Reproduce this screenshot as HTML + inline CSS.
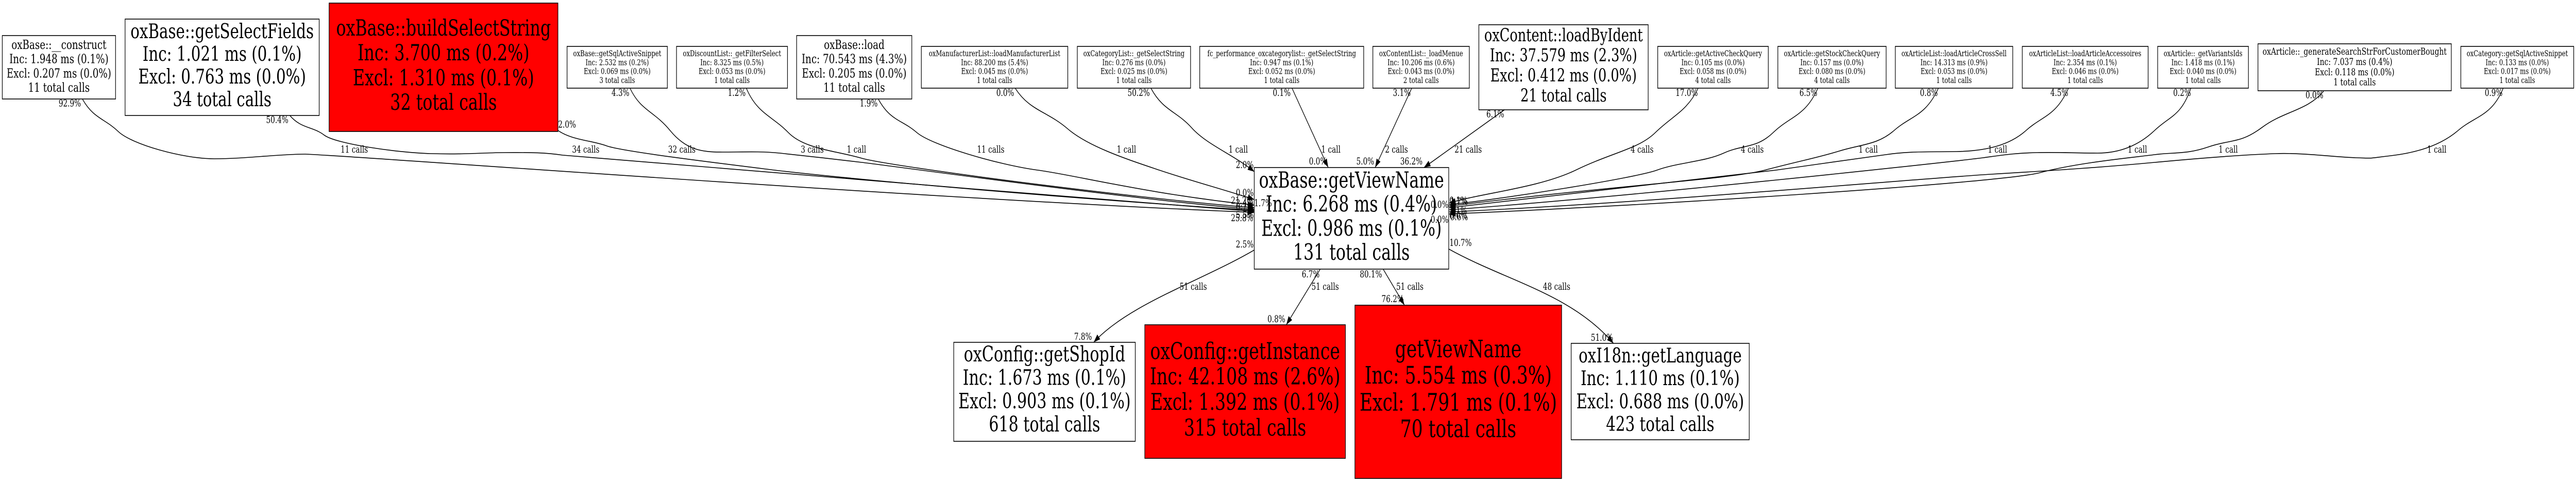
<!DOCTYPE html>
<html><head><meta charset="utf-8"><title>Call graph</title>
<style>
html,body{margin:0;padding:0;background:#fff;width:100%;height:100%;overflow:hidden}
svg{display:block;width:100vw;height:100vh}
text{font-family:"DejaVu Serif",serif;fill:#000}
.n text{text-anchor:middle}
.l{font-size:18.4px;text-anchor:middle}
.e path{fill:none;stroke:#000;stroke-width:1.6;marker-end:url(#a)}
.b{stroke:#000;stroke-width:1.6;fill:#fff}
.r{fill:#f00}
</style></head><body>
<svg xmlns="http://www.w3.org/2000/svg" viewBox="0 0 6755 933" preserveAspectRatio="none">
<defs><marker id="a" markerUnits="userSpaceOnUse" markerWidth="18" markerHeight="12" refX="17" refY="6" orient="auto"><path d="M0 0L17 6L0 12Z" fill="#000"/></marker></defs>
<rect width="6755" height="933" fill="#fff"/>

<g class="e">
<path d="M216 192C245 230 275 230 310 255S480 308 562 308S730 299 800 299S2400 385 3289 412"/>
<path d="M760 224C790 250 820 245 850 262S1040 296 1130 298S1270 296 1325 296S1420 295 1476 301S2700 375 3289 410"/>
<path d="M1463 253C1500 272 1550 272 1591 283S1900 318 2031 330S2700 380 3289 408"/>
<path d="M1652 171C1680 215 1715 215 1757 253S1840 295 1894 295S1990 293 2045 297S2200 310 2260 315S3000 390 3289 406"/>
<path d="M1957 171C1985 220 2025 225 2067 257S2190 292 2260 307S2940 382 3289 403"/>
<path d="M2303 192C2335 235 2365 232 2404 257S2620 320 2721 330S3000 375 3289 398"/>
<path d="M2662 171C2700 215 2745 215 2800 250S2960 310 3040 330S3220 370 3289 387"/>
<path d="M3018 171C3050 215 3085 215 3125 248S3235 300 3289 333"/>
<path d="M3388 171L3483 325"/>
<path d="M3702 171L3606 325"/>
<path d="M3945 213L3734 325"/>
<path d="M4453 171C4425 215 4385 225 4341 257S4230 295 4132 330S3880 375 3800 394"/>
<path d="M4767 171C4735 225 4695 225 4650 257S4570 280 4520 297S4400 315 4345 330S3950 385 3800 397"/>
<path d="M5083 171C5050 225 5010 225 4967 253S4880 280 4823 293S4720 312 4628 330S4200 362 3800 400"/>
<path d="M5424 171C5392 225 5355 225 5313 253S5210 293 5130 294S5010 293 4945 300S4750 320 4657 330S4200 370 3800 403"/>
<path d="M5745 171C5720 225 5690 225 5650 253S5560 297 5500 297S5400 295 5342 296S5260 300 5200 306S4300 380 3800 407"/>
<path d="M6093 177C6050 215 5990 215 5932 247S5850 270 5791 285S5700 295 5650 300S5450 315 5349 335S4300 400 3800 415"/>
<path d="M6564 171C6535 225 6490 225 6446 253S6340 296 6270 302S6230 307 6178 306S6040 296 5967 298S5780 306 5650 315S5400 330 5220 338S4300 395 3800 411"/>
<path d="M3289 485C3150 545 2960 590 2868 664"/>
<path d="M3462 522L3373 630"/>
<path d="M3627 522L3683 592"/>
<path d="M3799 483C3950 545 4120 570 4231 666"/>
</g>

<g class="n">
<rect class="b" x="6" y="69" width="297" height="123"/>
<g font-size="24.7"><text x="154.500" y="95">oxBase::__construct</text><text x="154.500" y="122.700">Inc: 1.948 ms (0.1%)</text><text x="154.500" y="150.400">Excl: 0.207 ms (0.0%)</text><text x="154.500" y="178">11 total calls</text></g>

<rect class="b" x="328" y="37" width="509" height="187"/>
<g font-size="39.6"><text x="582.500" y="74">oxBase::getSelectFields</text><text x="582.500" y="118">Inc: 1.021 ms (0.1%)</text><text x="582.500" y="162">Excl: 0.763 ms (0.0%)</text><text x="582.500" y="206">34 total calls</text></g>

<rect class="b r" x="863" y="6" width="600" height="249"/>
<g font-size="42.800"><text x="1163" y="69">oxBase::buildSelectString</text><text x="1163" y="117">Inc: 3.700 ms (0.2%)</text><text x="1163" y="165.500">Excl: 1.310 ms (0.1%)</text><text x="1163" y="213">32 total calls</text></g>

<rect class="b" x="1487" y="90" width="263" height="81"/>
<g font-size="15.8"><text x="1618.500" y="109">oxBase::getSqlActiveSnippet</text><text x="1618.500" y="126.300">Inc: 2.532 ms (0.2%)</text><text x="1618.500" y="143.600">Excl: 0.069 ms (0.0%)</text><text x="1618.500" y="161">3 total calls</text></g>

<rect class="b" x="1774" y="90" width="291" height="81"/>
<g font-size="15.8"><text x="1919.500" y="109">oxDiscountList::_getFilterSelect</text><text x="1919.500" y="126.300">Inc: 8.325 ms (0.5%)</text><text x="1919.500" y="143.600">Excl: 0.053 ms (0.0%)</text><text x="1919.500" y="161">1 total calls</text></g>

<rect class="b" x="2089" y="69" width="302" height="123"/>
<g font-size="24.7"><text x="2240" y="95">oxBase::load</text><text x="2240" y="122.700">Inc: 70.543 ms (4.3%)</text><text x="2240" y="150.400">Excl: 0.205 ms (0.0%)</text><text x="2240" y="178">11 total calls</text></g>

<rect class="b" x="2416" y="90" width="384" height="81"/>
<g font-size="15.8"><text x="2608" y="109">oxManufacturerList::loadManufacturerList</text><text x="2608" y="126.300">Inc: 88.200 ms (5.4%)</text><text x="2608" y="143.600">Excl: 0.045 ms (0.0%)</text><text x="2608" y="161">1 total calls</text></g>

<rect class="b" x="2825" y="90" width="297" height="81"/>
<g font-size="15.8"><text x="2973.500" y="109">oxCategoryList::_getSelectString</text><text x="2973.500" y="126.300">Inc: 0.276 ms (0.0%)</text><text x="2973.500" y="143.600">Excl: 0.025 ms (0.0%)</text><text x="2973.500" y="161">1 total calls</text></g>

<rect class="b" x="3146" y="90" width="430" height="81"/>
<g font-size="15.8"><text x="3361" y="109">fc_performance_oxcategorylist::_getSelectString</text><text x="3361" y="126.300">Inc: 0.947 ms (0.1%)</text><text x="3361" y="143.600">Excl: 0.052 ms (0.0%)</text><text x="3361" y="161">1 total calls</text></g>

<rect class="b" x="3600" y="90" width="253" height="81"/>
<g font-size="15.8"><text x="3726.500" y="109">oxContentList::_loadMenue</text><text x="3726.500" y="126.300">Inc: 10.206 ms (0.6%)</text><text x="3726.500" y="143.600">Excl: 0.043 ms (0.0%)</text><text x="3726.500" y="161">2 total calls</text></g>

<rect class="b" x="3878" y="48" width="444" height="165"/>
<g font-size="34.600"><text x="4100" y="80">oxContent::loadByIdent</text><text x="4100" y="119">Inc: 37.579 ms (2.3%)</text><text x="4100" y="158">Excl: 0.412 ms (0.0%)</text><text x="4100" y="197">21 total calls</text></g>

<rect class="b" x="4347" y="90" width="290" height="81"/>
<g font-size="15.8"><text x="4492" y="109">oxArticle::getActiveCheckQuery</text><text x="4492" y="126.300">Inc: 0.105 ms (0.0%)</text><text x="4492" y="143.600">Excl: 0.058 ms (0.0%)</text><text x="4492" y="161">4 total calls</text></g>

<rect class="b" x="4662" y="90" width="284" height="81"/>
<g font-size="15.8"><text x="4804" y="109">oxArticle::getStockCheckQuery</text><text x="4804" y="126.300">Inc: 0.157 ms (0.0%)</text><text x="4804" y="143.600">Excl: 0.080 ms (0.0%)</text><text x="4804" y="161">4 total calls</text></g>

<rect class="b" x="4970" y="90" width="308" height="81"/>
<g font-size="15.8"><text x="5124" y="109">oxArticleList::loadArticleCrossSell</text><text x="5124" y="126.300">Inc: 14.313 ms (0.9%)</text><text x="5124" y="143.600">Excl: 0.053 ms (0.0%)</text><text x="5124" y="161">1 total calls</text></g>

<rect class="b" x="5303" y="90" width="330" height="81"/>
<g font-size="15.8"><text x="5468" y="109">oxArticleList::loadArticleAccessoires</text><text x="5468" y="126.300">Inc: 2.354 ms (0.1%)</text><text x="5468" y="143.600">Excl: 0.046 ms (0.0%)</text><text x="5468" y="161">1 total calls</text></g>

<rect class="b" x="5658" y="90" width="238" height="81"/>
<g font-size="15.8"><text x="5777" y="109">oxArticle::_getVariantsIds</text><text x="5777" y="126.300">Inc: 1.418 ms (0.1%)</text><text x="5777" y="143.600">Excl: 0.040 ms (0.0%)</text><text x="5777" y="161">1 total calls</text></g>

<rect class="b" x="5921" y="85" width="507" height="91"/>
<g font-size="18.800"><text x="6174.500" y="106">oxArticle::_generateSearchStrForCustomerBought</text><text x="6174.500" y="126">Inc: 7.037 ms (0.4%)</text><text x="6174.500" y="145.800">Excl: 0.118 ms (0.0%)</text><text x="6174.500" y="165.500">1 total calls</text></g>

<rect class="b" x="6453" y="90" width="296" height="81"/>
<g font-size="15.8"><text x="6601" y="109">oxCategory::getSqlActiveSnippet</text><text x="6601" y="126.300">Inc: 0.133 ms (0.0%)</text><text x="6601" y="143.600">Excl: 0.017 ms (0.0%)</text><text x="6601" y="161">1 total calls</text></g>

<rect class="b" x="3289" y="325" width="510" height="197"/>
<g font-size="42.600"><text x="3544" y="364">oxBase::getViewName</text><text x="3544" y="410.700">Inc: 6.268 ms (0.4%)</text><text x="3544" y="457.300">Excl: 0.986 ms (0.1%)</text><text x="3544" y="504">131 total calls</text></g>

<rect class="b" x="2501" y="664" width="476" height="192"/>
<g font-size="40.700"><text x="2739" y="701">oxConfig::getShopId</text><text x="2739" y="746.500">Inc: 1.673 ms (0.1%)</text><text x="2739" y="792">Excl: 0.903 ms (0.1%)</text><text x="2739" y="837">618 total calls</text></g>

<rect class="b r" x="3002" y="630" width="526" height="259"/>
<g font-size="44.700"><text x="3265" y="696.700">oxConfig::getInstance</text><text x="3265" y="745.700">Inc: 42.108 ms (2.6%)</text><text x="3265" y="795">Excl: 1.392 ms (0.1%)</text><text x="3265" y="845">315 total calls</text></g>

<rect class="b r" x="3553" y="592" width="542" height="336"/>
<g font-size="46.600"><text x="3824" y="693">getViewName</text><text x="3824" y="744">Inc: 5.554 ms (0.3%)</text><text x="3824" y="796.500">Excl: 1.791 ms (0.1%)</text><text x="3824" y="848">70 total calls</text></g>

<rect class="b" x="4120" y="666" width="467" height="187"/>
<g font-size="39.6"><text x="4353.500" y="703">oxI18n::getLanguage</text><text x="4353.500" y="747">Inc: 1.110 ms (0.1%)</text><text x="4353.500" y="792">Excl: 0.688 ms (0.0%)</text><text x="4353.500" y="836">423 total calls</text></g>
</g>

<g class="l">
<text x="929" y="296">11 calls</text><text x="1536" y="296">34 calls</text><text x="1788" y="296">32 calls</text><text x="2130" y="296">3 calls</text><text x="2246" y="296">1 call</text><text x="2598" y="296">11 calls</text><text x="2954" y="296">1 call</text><text x="3247" y="296">1 call</text><text x="3490" y="296">1 call</text><text x="3662" y="296">2 calls</text><text x="3850" y="296">21 calls</text><text x="4306" y="296">4 calls</text><text x="4595" y="296">4 calls</text><text x="4899" y="296">1 call</text><text x="5238" y="296">1 call</text><text x="5605" y="296">1 call</text><text x="5843" y="296">1 call</text><text x="6390" y="296">1 call</text>
<text x="3129" y="562">51 calls</text><text x="3475" y="562">51 calls</text><text x="3697" y="562">51 calls</text><text x="4082" y="562">48 calls</text>

<text x="183" y="206.500">92.9%</text><text x="727" y="238.500">50.4%</text><text x="1487" y="247.500">2.0%</text><text x="1627" y="186">4.3%</text><text x="1932" y="186">1.2%</text><text x="2278" y="206.500">1.9%</text><text x="2636" y="186">0.0%</text><text x="2986" y="186">50.2%</text><text x="3361" y="186">0.1%</text><text x="3676" y="186">3.1%</text><text x="3921" y="227.500">6.1%</text><text x="4423" y="186">17.0%</text><text x="4742" y="186">6.5%</text><text x="5058" y="186">0.8%</text><text x="5400" y="186">4.5%</text><text x="5722" y="186">0.2%</text><text x="6069" y="190.500">0.0%</text><text x="6539" y="186">0.9%</text>

<text x="3264" y="326">2.0%</text><text x="3456" y="319">0.0%</text><text x="3580" y="319">5.0%</text><text x="3701" y="319">36.2%</text>
<text x="3264" y="380">0.0%</text><text x="3257" y="395">21.2%</text><text x="3264" y="400">2.4%</text><text x="3312" y="400">1.7%</text><text x="3264" y="407">0.7%</text><text x="3264" y="423">5.5%</text><text x="3257" y="429">25.8%</text><text x="3264" y="480">2.5%</text>
<text x="3775" y="403">0.0%</text><text x="3775" y="432">0.0%</text><text x="3824" y="395">0.1%</text><text x="3826" y="397">1.7%</text><text x="3824" y="415">1.1%</text><text x="3824" y="424">0.0%</text><text x="3826" y="427">0.6%</text><text x="3830" y="477">10.7%</text>
<text x="3437" y="538">6.7%</text><text x="3595" y="538">80.1%</text><text x="3652" y="586">76.2%</text><text x="2840" y="659">7.8%</text><text x="3347" y="625">0.8%</text><text x="4201" y="661">51.0%</text>
</g>
</svg>
</body></html>
